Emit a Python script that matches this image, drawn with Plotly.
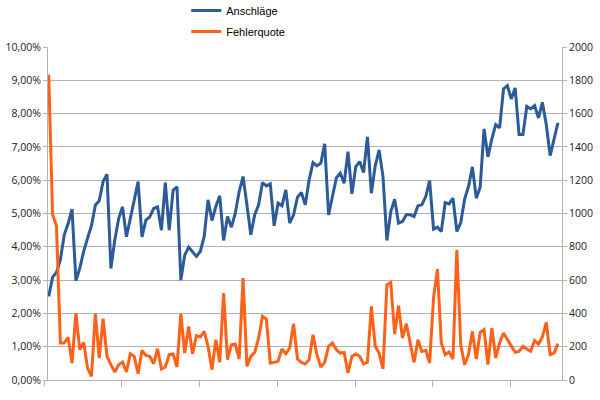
import plotly.graph_objects as go

anschlaege = [
    502, 618, 646, 722, 872, 940, 1026, 596, 672, 772,
    852, 926, 1050, 1077, 1192, 1236, 670, 840, 970, 1040,
    860, 980, 1080, 1192, 860, 960, 980, 1030, 1040, 900,
    1186, 900, 1140, 1160, 600, 750, 798, 770, 742, 772,
    862, 1082, 958, 1042, 1106, 838, 982, 918, 1002, 1132,
    1222, 1050, 872, 992, 1052, 1186, 1166, 1178, 926, 1062,
    1046, 1142, 942, 992, 1098, 1126, 1052, 1202, 1306, 1286,
    1302, 1418, 992, 1102, 1214, 1242, 1182, 1372, 1118, 1282,
    1312, 1246, 1460, 1122, 1286, 1382, 1222, 838, 1010, 1086,
    942, 952, 992, 992, 982, 1046, 1052, 1102, 1198, 906,
    918, 892, 1066, 1058, 1092, 892, 946, 1086, 1162, 1280,
    1092, 1158, 1508, 1340, 1448, 1534, 1514, 1748, 1768, 1688,
    1754, 1474, 1474, 1644, 1628, 1648, 1574, 1668, 1534, 1348,
    1444, 1544,
]

fehlerquote = [
    9.17, 4.96, 4.63, 1.11, 1.11, 1.28, 0.51, 2.01, 0.91, 1.13,
    0.36, 0.11, 1.99, 0.66, 1.84, 0.71, 0.46, 0.24, 0.46, 0.54,
    0.24, 0.79, 0.71, 0.19, 0.89, 0.74, 0.71, 0.49, 0.94, 0.33,
    0.39, 0.76, 0.78, 0.39, 1.99, 0.81, 1.61, 0.79, 1.33, 1.29,
    1.46, 1.01, 0.31, 1.21, 0.53, 2.61, 0.61, 1.06, 1.08, 0.63,
    3.06, 0.41, 0.71, 0.83, 1.26, 1.91, 1.83, 0.51, 0.53, 0.56,
    0.93, 0.79, 0.96, 1.69, 0.63, 0.53, 0.48, 0.61, 1.36, 0.76,
    0.39, 0.53, 1.01, 1.11, 0.91, 0.81, 0.83, 0.21, 0.71, 0.78,
    0.71, 0.48, 0.53, 2.21, 1.01, 0.81, 0.33, 2.86, 2.93, 1.38,
    2.23, 1.26, 1.69, 1.11, 0.53, 1.21, 0.86, 0.89, 0.51, 2.46,
    3.33, 1.11, 0.76, 0.84, 0.63, 3.91, 1.06, 0.46, 0.76, 1.46,
    0.63, 1.43, 1.51, 0.46, 1.56, 0.66, 1.11, 1.41, 1.23, 1.01,
    0.83, 0.86, 1.01, 0.93, 0.86, 1.19, 1.08, 1.29, 1.73, 0.76,
    0.81, 1.09,
]

x_idx = list(range(len(anschlaege)))
x_tick_positions = [18.8, 38.8, 58.8, 78.8, 98.8, 118.8]
left_ticks = [0, 1, 2, 3, 4, 5, 6, 7, 8, 9, 10]
left_labels = ["0,00%", "1,00%", "2,00%", "3,00%", "4,00%", "5,00%",
               "6,00%", "7,00%", "8,00%", "9,00%", "10,00%"]
right_ticks = [0, 200, 400, 600, 800, 1000, 1200, 1400, 1600, 1800, 2000]

BLUE = "#2b5b9b"
ORANGE = "#ff6119"
GRID = "#b3b3b3"
TICKFONT = dict(family="Open Sans", size=10.5, color="#222222")

fig = go.Figure()
fig.add_trace(go.Scatter(
    x=x_idx, y=anschlaege, name="Anschläge", mode="lines",
    line=dict(color=BLUE, width=3), yaxis="y", legendgroup="a",
))
fig.add_trace(go.Scatter(
    x=x_idx, y=fehlerquote, name="Fehlerquote", mode="lines",
    line=dict(color=ORANGE, width=3), yaxis="y2", legendgroup="b",
))

fig.update_layout(
    width=600, height=400,
    margin=dict(l=48, r=38, t=47, b=20, autoexpand=False),
    paper_bgcolor="white", plot_bgcolor="white",
    showlegend=True,
    legend=dict(
        orientation="v", x=0.269, xanchor="left", y=1.153, yanchor="top",
        font=dict(family="Liberation Sans", size=11, color="#000000"),
        tracegroupgap=2, bgcolor="rgba(0,0,0,0)",
    ),
    xaxis=dict(
        range=[-0.18, 132.05], showgrid=False, zeroline=False,
        showline=True, linecolor=GRID, linewidth=1,
        tickmode="array", tickvals=x_tick_positions, showticklabels=False,
        ticks="outside", ticklen=6, tickcolor=GRID,
    ),
    yaxis=dict(
        side="right", range=[0, 2000], tickmode="array", tickvals=right_ticks,
        tickformat="d", showgrid=True, gridcolor=GRID, gridwidth=1,
        zeroline=False, showline=True, linecolor=GRID,
        ticks="outside", ticklen=4, tickcolor=GRID, tickfont=TICKFONT,
    ),
    yaxis2=dict(
        overlaying="y", side="left", range=[0, 10], tickmode="array",
        tickvals=left_ticks, ticktext=left_labels,
        showgrid=False, zeroline=False, showline=True, linecolor=GRID,
        ticks="outside", ticklen=4, tickcolor=GRID, tickfont=TICKFONT,
    ),
    shapes=[dict(
        type="line", xref="paper", yref="paper",
        x0=-0.0072, x1=-0.0072, y0=0, y1=-0.018,
        line=dict(color=GRID, width=1),
    )],
)

fig.write_html(
    "out.html",
    config={"displayModeBar": False},
    post_script="document.body.style.margin='0';document.body.style.padding='0';",
)
